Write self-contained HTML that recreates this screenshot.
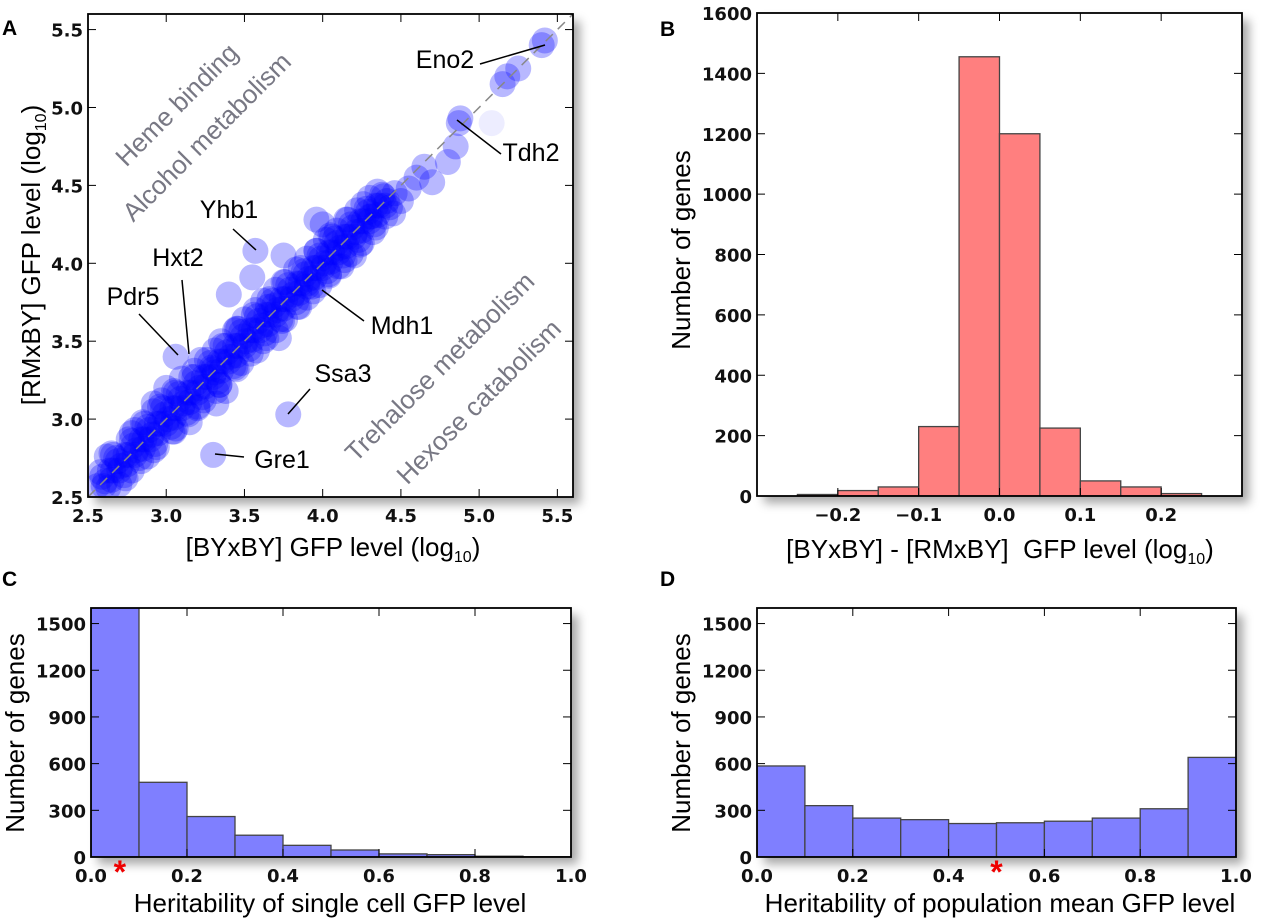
<!DOCTYPE html>
<html><head><meta charset="utf-8"><style>
html,body{margin:0;padding:0;background:#fff;}
svg{display:block;font-family:"Liberation Sans","DejaVu Sans",sans-serif;}
.tick{font-family:"DejaVu Sans","Liberation Sans",sans-serif;font-size:18px;font-weight:bold;fill:#111;}
.lab{font-size:26px;fill:#000;}
.gene{font-size:25px;fill:#000;}
.go{font-size:26px;fill:#787884;}
.pl{font-size:21px;font-weight:bold;}
</style></head><body>
<svg id="fig" width="1280" height="920" viewBox="0 0 1280 920">
<defs><filter id="sh" x="-5%" y="-5%" width="115%" height="115%"><feDropShadow dx="7" dy="7" stdDeviation="5" flood-color="#000" flood-opacity="0.35"/></filter></defs>
</svg>
<script>
// Panel A scatter data
const bx=[2.56,2.61,2.66,2.71,2.76,2.81,2.86,2.91,2.96,3.01,3.06,3.11,3.16,3.21,3.26,3.31,3.36,3.41,3.46,3.51,3.56,3.61,3.66,3.71,3.76,3.81,3.86,3.91,3.96,4.01,4.06,4.11,4.16,4.21,4.26,4.31,4.36,4.41,4.46,
2.58,2.68,2.78,2.88,2.98,3.08,3.18,3.28,3.38,3.48,3.58,3.68,3.78,3.88,3.98,4.08,4.18,4.28,4.38,
2.63,2.73,2.83,2.93,3.03,3.13,3.23,3.33,3.43,3.53,3.63,3.73,3.83,3.93,4.03,4.13,4.23,4.33,4.43,
2.62,2.80,2.97,3.10,3.22,3.35,3.50,3.62,3.75,3.90,4.02,4.15,4.30,
2.70,2.88,3.05,3.20,3.32,3.45,3.58,3.70,3.85,3.98,4.10,4.25,4.40,
2.59,2.64,2.69,2.74,2.79,2.84,2.89,2.94,2.99,3.04,3.09,3.14,3.19,3.24,3.29,3.34,3.39,3.44,3.49,3.54,3.59,3.64,3.69,3.74,3.79,3.84,3.89,3.94,3.99,4.04,4.09,4.14,4.19,4.24,4.29,4.34,4.39,
2.60,2.65,2.70,2.75,2.80,2.85,2.90,2.95,3.00,3.05,3.10,3.15,3.20,3.25,3.30,3.35,3.40,3.45,3.50,3.55,3.60,3.65,3.70,3.75,3.80,3.85,3.90,3.95,4.00,4.05,4.10,4.15,4.20,4.25,4.30,4.35,4.40,
2.66,2.76,2.86,2.96,3.06,3.16,3.26,3.36,3.46,3.56,3.66,3.76,3.86,3.96,4.06,4.16,4.26,
2.74,2.84,2.94,3.04,3.14,3.24,3.34,3.44,3.54,3.64,3.74,3.84,3.94,4.04,4.14,4.24,4.34,
2.65,2.78,2.92,3.05,3.18,3.31,3.44,3.57,3.70,3.83,3.96,4.09,4.22,4.35,
2.78,2.92,3.06,3.20,3.34,3.48,3.62,3.76,3.90,4.04,4.18,4.32,
3.30,3.06,3.57,3.40,3.75,3.78,3.30,3.55,3.32,3.90,3.96,4.00,4.30,4.05,4.55,4.60,4.65,4.70,4.80,4.85,4.87,4.88,5.08,5.15,5.18,5.25,5.40,5.42,3.45,3.15,3.65,4.20,4.45,2.92,3.38,3.72,4.12,4.50,3.00,2.85];
const by=[2.57,2.60,2.67,2.70,2.77,2.80,2.87,2.90,2.97,3.00,3.07,3.10,3.17,3.20,3.27,3.30,3.37,3.40,3.47,3.50,3.57,3.60,3.67,3.70,3.77,3.80,3.87,3.90,3.97,4.00,4.07,4.10,4.17,4.20,4.27,4.30,4.37,4.40,4.45,
2.66,2.75,2.86,2.95,3.07,3.16,3.27,3.36,3.47,3.56,3.66,3.76,3.86,3.95,4.05,4.16,4.25,4.35,4.44,
2.56,2.64,2.75,2.84,2.95,3.04,3.14,3.24,3.34,3.45,3.55,3.64,3.75,3.85,3.95,4.05,4.15,4.25,4.36,
2.76,2.93,3.12,3.26,3.38,3.50,3.64,3.76,3.88,4.03,4.15,4.28,4.42,
2.58,2.76,2.92,3.07,3.18,3.32,3.44,3.57,3.72,3.86,3.98,4.13,4.30,
2.63,2.67,2.73,2.77,2.83,2.87,2.93,2.97,3.03,3.07,3.13,3.17,3.23,3.27,3.33,3.37,3.43,3.47,3.53,3.57,3.63,3.67,3.73,3.77,3.83,3.87,3.93,3.97,4.03,4.07,4.13,4.17,4.23,4.27,4.33,4.37,4.43,
2.57,2.61,2.67,2.71,2.77,2.81,2.87,2.91,2.97,3.01,3.07,3.11,3.17,3.21,3.27,3.31,3.37,3.41,3.47,3.51,3.57,3.61,3.67,3.71,3.77,3.81,3.87,3.91,3.97,4.01,4.07,4.11,4.17,4.21,4.27,4.31,4.37,
2.77,2.87,2.97,3.08,3.17,3.27,3.38,3.47,3.58,3.67,3.77,3.88,3.97,4.08,4.17,4.28,4.38,
2.62,2.73,2.82,2.92,3.03,3.12,3.22,3.33,3.42,3.52,3.63,3.72,3.82,3.93,4.02,4.12,4.23,
2.78,2.91,3.05,3.18,3.31,3.44,3.57,3.70,3.83,3.96,4.08,4.21,4.34,4.46,
2.67,2.80,2.94,3.08,3.22,3.36,3.50,3.64,3.78,3.92,4.06,4.20,
3.32,3.40,4.08,3.80,4.05,3.03,2.77,3.91,3.10,3.85,4.28,4.25,4.30,4.18,4.48,4.55,4.62,4.52,4.65,4.75,4.90,4.93,4.90,5.15,5.20,5.25,5.40,5.43,3.58,2.98,3.72,4.05,4.32,3.10,3.18,3.52,3.98,4.40,3.20,2.98];
const aTicks=[2.5,3.0,3.5,4.0,4.5,5.0,5.5];
const geneNames=["Eno2","Tdh2","Yhb1","Hxt2","Pdr5","Mdh1","Ssa3","Gre1"];
// Panel B
const bEdges=[-0.25,-0.2,-0.15,-0.1,-0.05,0,0.05,0.1,0.15,0.2,0.25];
const bCounts=[5,18,30,230,1455,1200,225,50,30,8];
const bXTicks=[-0.2,-0.1,0.0,0.1,0.2];
const bXLabels=["\u22120.2","\u22120.1","0.0","0.1","0.2"];
const bYTicks=[0,200,400,600,800,1000,1200,1400,1600];
// Panels C, D
const hEdges=[0,0.1,0.2,0.3,0.4,0.5,0.6,0.7,0.8,0.9,1.0];
const cCounts=[1700,480,260,140,75,45,20,15,5,2];
const dCounts=[585,330,250,240,215,220,230,250,310,640];
const hXTicks=[0,0.2,0.4,0.6,0.8,1.0];
const hYTicks=[0,300,600,900,1200,1500];
const cStar=0.06, dStar=0.5;

const NS="http://www.w3.org/2000/svg";
const svg=document.getElementById('fig');
function mk(tag,attrs,parent,text){const e=document.createElementNS(NS,tag);for(const k in attrs)e.setAttribute(k,attrs[k]);if(text!==undefined)e.textContent=text;(parent||svg).appendChild(e);return e;}
function lin(d0,d1,r0,r1){return v=>r0+(v-d0)*(r1-r0)/(d1-d0);}

function frame(g,L,T,R,B,name){
  const bg=mk('rect',{x:L,y:T,width:R-L,height:B-T,fill:'#fff',filter:'url(#sh)'},g);
  
  
}
function border(g,L,T,R,B,name){
  const r=mk('rect',{x:L,y:T,width:R-L,height:B-T,fill:'none',stroke:'#000','stroke-width':1.8},g);
  
  
}
function xticks(g,sx,ticks,labels,T,B,name){
  ticks.forEach((t,i)=>{
    const x=sx(t);
    mk('line',{x1:x,x2:x,y1:B,y2:B-8,stroke:'#000','stroke-width':1},g);
    mk('line',{x1:x,x2:x,y1:T,y2:T+8,stroke:'#000','stroke-width':1},g);
    const tx=mk('text',{x:x,y:B+25,'text-anchor':'middle',class:'tick'},g,labels[i]);
    
    
  });
}
function yticks(g,sy,ticks,labels,L,R,name){
  ticks.forEach((t,i)=>{
    const y=sy(t);
    mk('line',{x1:L,x2:L+8,y1:y,y2:y,stroke:'#000','stroke-width':1},g);
    mk('line',{x1:R,x2:R-8,y1:y,y2:y,stroke:'#000','stroke-width':1},g);
    const tx=mk('text',{x:L-5,y:y+7,'text-anchor':'end',class:'tick'},g,labels[i]);
    
    
  });
}
function label(txt,x,y,rot,name,cls){
  const t=mk('text',{x:x,y:y,'text-anchor':'middle',class:cls||'lab',transform:rot?`rotate(${rot} ${x} ${y})`:''},svg);
  t.innerHTML=txt;
  
  
  return t;
}

// ---------- Panel A ----------
(function(){
  const L=88,R=573,T=14,B=497;
  const g=mk('g',{});
  
  
  frame(g,L,T,R,B,'panel-a');
  const sx=lin(2.5,5.6,L,R), sy=lin(2.5,5.6,B,T);
  const clip=mk('clipPath',{id:'ca'},g); mk('rect',{x:L,y:T,width:R-L,height:B-T},clip);
  const pg=mk('g',{'clip-path':'url(#ca)'},g);
  bx.forEach((x,i)=>{
    const c=mk('circle',{cx:sx(x),cy:sy(by[i]),r:13,fill:'#0000ff','fill-opacity':(x===5.08?0.07:0.28)},pg);
    
    
  });
  const dl=mk('line',{x1:sx(2.5),y1:sy(2.5),x2:sx(5.6),y2:sy(5.6),stroke:'#888','stroke-width':1.5,'stroke-dasharray':'10,7'},pg);
  
  
  border(g,L,T,R,B,'panel-a');
  xticks(g,sx,aTicks,aTicks.map(v=>v.toFixed(1)),T,B,'panel-a');
  yticks(g,sy,aTicks,aTicks.map(v=>v.toFixed(1)),L,R,'panel-a');
  const pos=[[445,68,480,64,545,45],[531,161,501,154,457,120],[229,218,233,229,256,250],[178,266,182,280,189,354],[133,305,139,314,178,355],[402,334,364,321,322,290],[343,382,310,389,288,414],[282,468,244,457,215,454]];
  geneNames.forEach((n,i)=>{
    const p=pos[i];
    const ln=mk('line',{x1:p[2],y1:p[3],x2:p[4],y2:p[5],stroke:'#000','stroke-width':1.5},g);
    
    
    const t=mk('text',{x:p[0],y:p[1],'text-anchor':'middle',class:'gene'},g,n);
    
    
  });
})();
label('Heme binding',183,111,-45,'go-label-heme-binding','go');
label('Alcohol metabolism',213,143,-45,'go-label-alcohol-metabolism','go');
label('Trehalose metabolism',446,373,-45,'go-label-trehalose-metabolism','go');
label('Hexose catabolism',485,408,-45,'go-label-hexose-catabolism','go');
label('[BYxBY] GFP level (log<tspan font-size="16" dy="6">10</tspan><tspan dy="-6">)</tspan>',333,556,0,'panel-a-x-axis-title');
label('[RMxBY] GFP level (log<tspan font-size="16" dy="6">10</tspan><tspan dy="-6">)</tspan>',40,255,-90,'panel-a-y-axis-title');

// ---------- histogram helper ----------
function hist(L,T,R,B,x0,x1,y1,edges,counts,color,xt,xl,yt,name,clipId){
  const g=mk('g',{});
  
  
  frame(g,L,T,R,B,name);
  const sx=lin(x0,x1,L,R), sy=lin(0,y1,B,T);
  const clip=mk('clipPath',{id:clipId},g); mk('rect',{x:L,y:T,width:R-L,height:B-T},clip);
  const pg=mk('g',{'clip-path':`url(#${clipId})`},g);
  counts.forEach((c,i)=>{
    const xa=sx(edges[i]), xb=sx(edges[i+1]), y=sy(c);
    const r=mk('rect',{x:xa,y:y,width:xb-xa,height:B-y,fill:color,stroke:'#444','stroke-width':1.3},pg);
    
    
  });
  border(g,L,T,R,B,name);
  xticks(g,sx,xt,xl,T,B,name);
  yticks(g,sy,yt,yt.map(String),L,R,name);
  return sx;
}
hist(757,13,1242,496,-0.3,0.3,1600,bEdges,bCounts,'#ff7f7f',bXTicks,bXLabels,bYTicks,'panel-b','cb');
label('[BYxBY] - [RMxBY]&#160; GFP level (log<tspan font-size="16" dy="6">10</tspan><tspan dy="-6">)</tspan>',1000,558,0,'panel-b-x-axis-title');
label('Number of genes',690,250,-90,'panel-b-y-axis-title');

const sxc=hist(91,608,571,857,0,1,1600,hEdges,cCounts,'#7f7fff',hXTicks,hXTicks.map(v=>v.toFixed(1)),hYTicks,'panel-c','cc');
label('Heritability of single cell GFP level',330,912,0,'panel-c-x-axis-title');
label('Number of genes',24,733,-90,'panel-c-y-axis-title');
const sxd=hist(757,608,1236,857,0,1,1600,hEdges,dCounts,'#7f7fff',hXTicks,hXTicks.map(v=>v.toFixed(1)),hYTicks,'panel-d','cd');
label('Heritability of population mean GFP level',1000,912,0,'panel-d-x-axis-title');
label('Number of genes',690,733,-90,'panel-d-y-axis-title');

const s1=mk('text',{x:sxc(cStar),y:883,'text-anchor':'middle','font-size':'32','font-weight':'bold',fill:'#ee0000'},svg,'*');


const s2=mk('text',{x:sxd(dStar),y:883,'text-anchor':'middle','font-size':'32','font-weight':'bold',fill:'#ee0000'},svg,'*');



[['A',2,35],['B',660,36],['C',2,586],['D',660,586]].forEach(p=>{
  const t=mk('text',{x:p[1],y:p[2],class:'pl'},svg,p[0]);
  
  
});
</script>
</body></html>
